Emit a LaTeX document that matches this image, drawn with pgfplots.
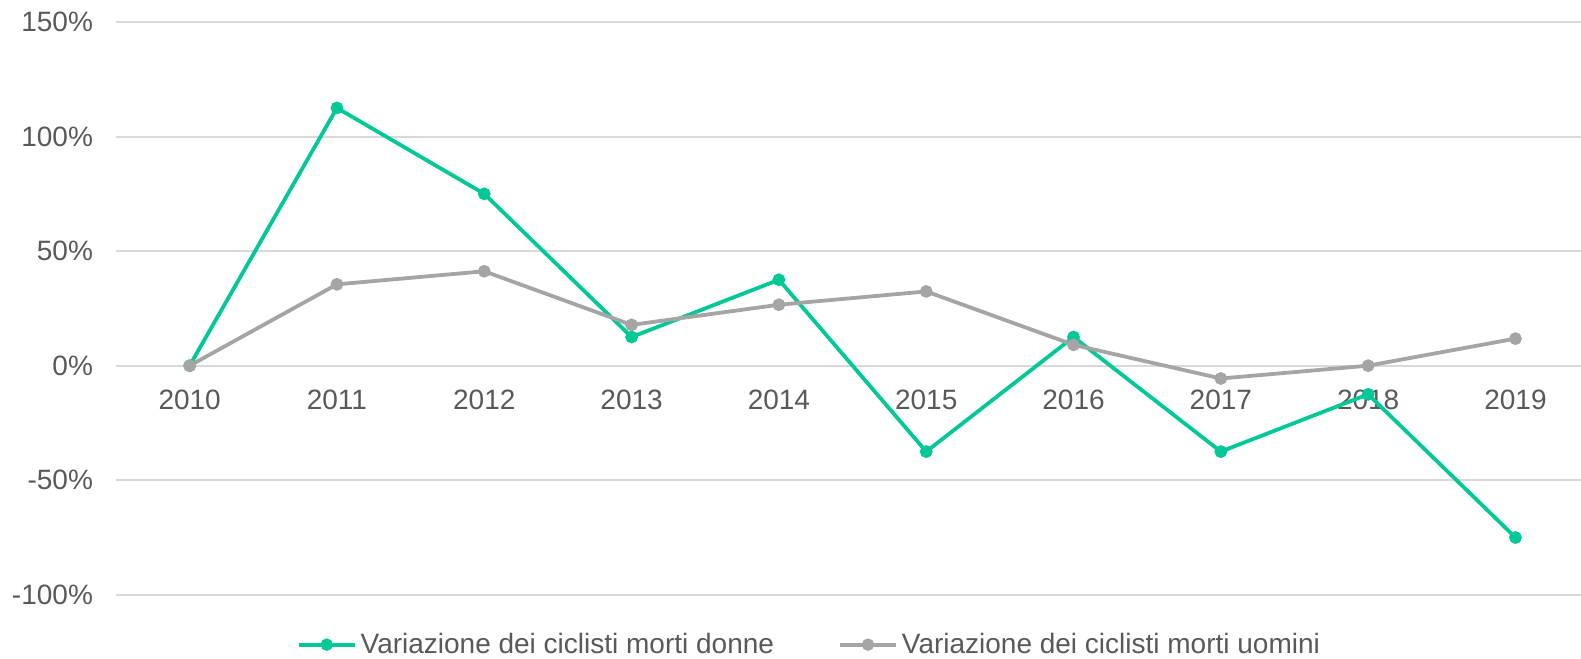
\documentclass[border=0pt]{standalone}
\usepackage{pgfplots}
\pgfplotsset{compat=1.18}
\usepackage{fontspec}
\setmainfont{Liberation Sans}
\definecolor{cgreen}{RGB}{0,200,150}
\definecolor{cgray}{RGB}{165,165,165}
\definecolor{ctext}{RGB}{89,89,89}
\definecolor{cgrid}{RGB}{217,217,217}
\begin{document}
\begin{tikzpicture}
\begin{axis}[
  scale only axis,
  width=732.5pt, height=286.4pt,
  xmin=-0.5, xmax=9.445,
  ymin=-100, ymax=150,
  ytick={-100,-50,0,50,100,150},
  xtick={0,...,9},
  xticklabels={2010,2011,2012,2013,2014,2015,2016,2017,2018,2019},
  axis x line=middle,
  axis y line=left,
  axis line style={draw=none},
  x axis line style={draw=cgrid, line width=1pt, -},
  y axis line style={draw=none, -},
  major tick length=0pt,
  ymajorgrids,
  grid style={cgrid, line width=1pt},
  tick label style={font=\fontsize{14}{16}\selectfont, text=ctext},
  /pgf/number format/assume math mode=true,
  yticklabel={\pgfmathprintnumber{\tick}\%},
  yticklabel style={xshift=-8pt},
  xticklabel style={yshift=-8.5pt},
  clip=false,
  legend style={draw=none, fill=none, at={(0.474,-0.087)}, anchor=center,
    font=\fontsize{14}{16}\selectfont, text=ctext,
    /tikz/every even column/.append style={column sep=30pt}},
  legend columns=2,
  legend image code/.code={
    \draw[#1, mark=none] (0cm,0cm) -- (28pt,0cm);
    \fill[#1] (14pt,0cm) circle (2.1pt);
  },
]
\addplot[cgreen, line width=1.9pt, mark=*, mark size=2.2pt, mark options={fill=cgreen, draw=cgreen}]
  coordinates {(0,0) (1,112.5) (2,75) (3,12.5) (4,37.5) (5,-37.5) (6,12.5) (7,-37.5) (8,-12.5) (9,-75)};
\addlegendentry{Variazione dei ciclisti morti donne}
\addplot[cgray, line width=1.9pt, mark=*, mark size=2.2pt, mark options={fill=cgray, draw=cgray}]
  coordinates {(0,0) (1,35.5) (2,41.2) (3,17.8) (4,26.6) (5,32.4) (6,9.1) (7,-5.6) (8,0) (9,11.8)};
\addlegendentry{Variazione dei ciclisti morti uomini}
\coordinate (sw) at (rel axis cs:0,0);
\coordinate (ne) at (rel axis cs:1,1);
\end{axis}
\pgfresetboundingbox
\path[use as bounding box] ([xshift=-58pt,yshift=-32pt]sw) rectangle ([yshift=11pt]ne);
\end{tikzpicture}
\end{document}
